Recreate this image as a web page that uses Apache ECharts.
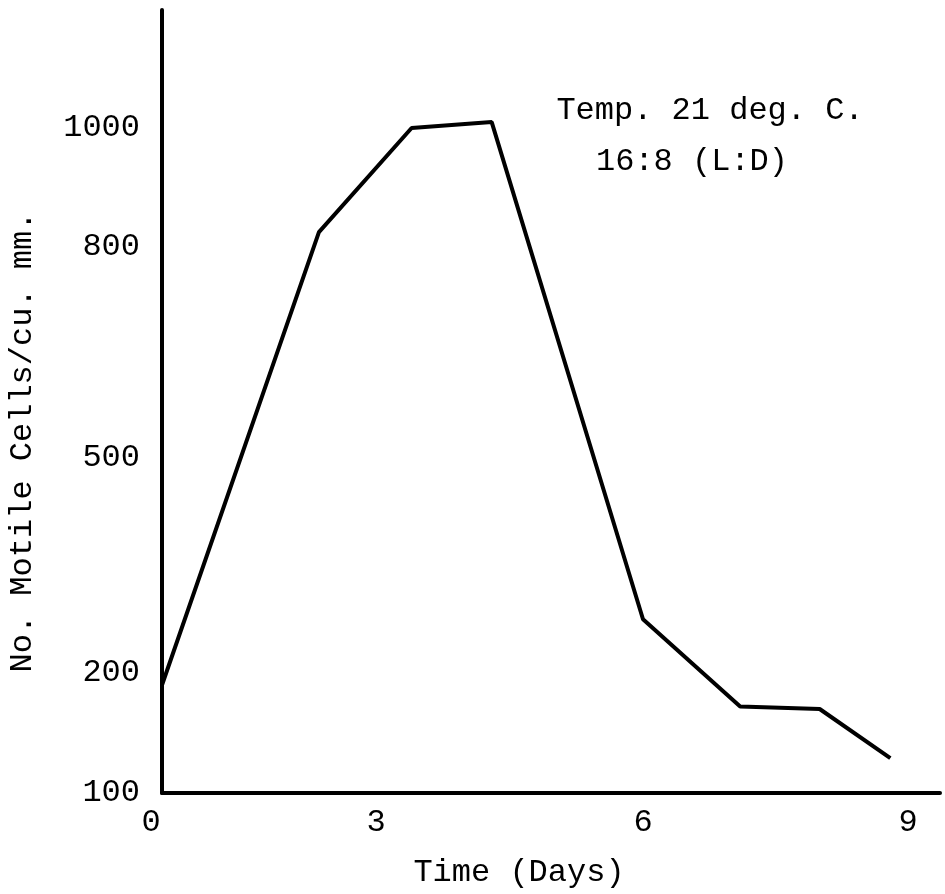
<!DOCTYPE html>
<html>
<head>
<meta charset="utf-8">
<script src="https://cdn.jsdelivr.net/npm/echarts@6/dist/echarts.min.js"></script>
<style>
  html, body { margin: 0; padding: 0; background: #fff; }
  #chart { width: 945px; height: 894px; }
</style>
</head>
<body>
<div id="chart"></div>
<script>
// ---- Data ----
const days  = [0, 2.2, 3.4, 4.3, 6.0, 7.1, 8.0, 8.8];
const cells = [190, 825, 1000, 1010, 275, 172, 170, 129];
const xTickLabels = [0, 3, 6, 9];
const yTickLabels = [100, 200, 500, 800, 1000];
const annotationLines = ['Temp. 21 deg. C.', '16:8 (L:D)'];
const xTitle = 'Time (Days)';
const yTitle = 'No. Motile Cells/cu. mm.';

// ---- Hand-drawn (non-uniform) axis scales: breakpoints in axis units ----
const xBreaks = [0, 214, 481, 746];
const yBreaks = [0, 120, 335, 546, 665];

function piecewise(v, vals, pos) {
  let i = 0;
  while (i < vals.length - 2 && v > vals[i + 1]) i++;
  const t = (v - vals[i]) / (vals[i + 1] - vals[i]);
  return pos[i] + t * (pos[i + 1] - pos[i]);
}
const xScale = d => piecewise(d, xTickLabels, xBreaks);
const yScale = c => piecewise(c, yTickLabels, yBreaks);

const FONT = '"Liberation Mono", "DejaVu Sans Mono", monospace';
const FS = 32;

const chart = echarts.init(document.getElementById('chart'), null, { renderer: 'canvas' });
const seriesData = days.map((d, i) => [xScale(d), yScale(cells[i])]);

chart.setOption({
  backgroundColor: '#fff',
  animation: false,
  grid: { left: 162, top: 10, right: 5, bottom: 101, containLabel: false },
  xAxis: {
    type: 'value', min: 0, max: 778,
    axisLine: { show: true, lineStyle: { color: '#000', width: 4 } },
    axisTick: { show: false },
    splitLine: { show: false },
    axisLabel: {
      customValues: xBreaks,
      formatter: v => {
        const i = xBreaks.indexOf(v);
        if (i < 0) return '';
        return i === 0 ? '{first|' + xTickLabels[i] + '}' : String(xTickLabels[i]);
      },
      rich: { first: { fontFamily: FONT, fontSize: FS, color: '#000', padding: [0, 22, 0, 0] } },
      color: '#000', fontFamily: FONT, fontSize: FS, margin: 14
    }
  },
  yAxis: {
    type: 'value', min: 0, max: 783,
    axisLine: { show: true, lineStyle: { color: '#000', width: 4 } },
    axisTick: { show: false },
    splitLine: { show: false },
    axisLabel: {
      customValues: yBreaks,
      formatter: v => { const i = yBreaks.indexOf(v); return i >= 0 ? String(yTickLabels[i]) : ''; },
      color: '#000', fontFamily: FONT, fontSize: FS, margin: 22
    }
  },
  graphic: [
    { type: 'text', x: 710, y: 111, style: { text: annotationLines[0], fill: '#000', font: FS + 'px ' + FONT, align: 'center', verticalAlign: 'middle' } },
    { type: 'text', x: 692, y: 162, style: { text: annotationLines[1], fill: '#000', font: FS + 'px ' + FONT, align: 'center', verticalAlign: 'middle' } },
    { type: 'text', x: 519, y: 873, style: { text: xTitle, fill: '#000', font: FS + 'px ' + FONT, align: 'center', verticalAlign: 'middle' } },
    { type: 'text', x: 23, y: 442, rotation: Math.PI / 2, style: { text: yTitle, fill: '#000', font: FS + 'px ' + FONT, align: 'center', verticalAlign: 'middle' } }
  ],
  series: [{
    type: 'line',
    data: seriesData,
    symbol: 'none',
    lineStyle: { color: '#000', width: 4 },
    z: 3
  }]
});
</script>
</body>
</html>
